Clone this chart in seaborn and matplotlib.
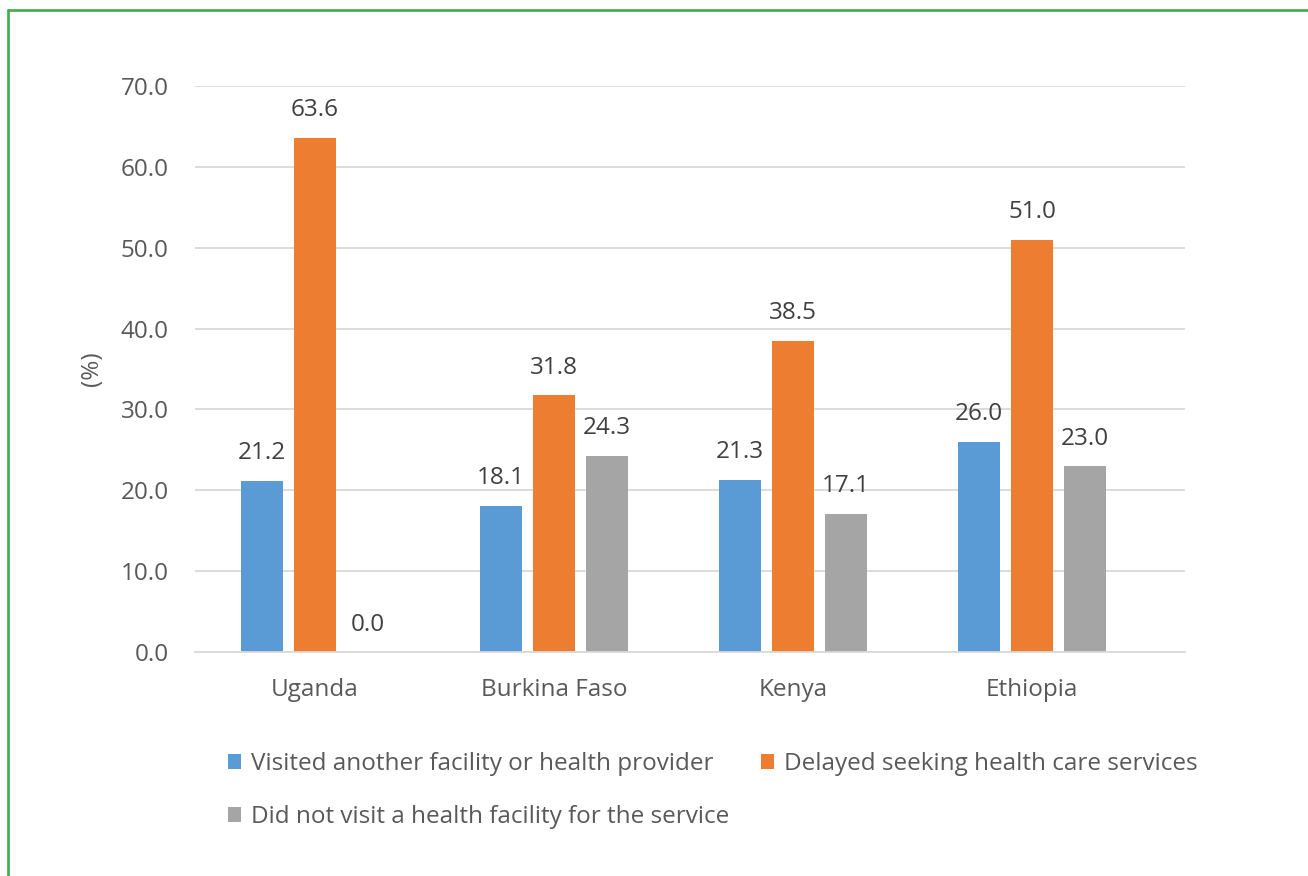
import matplotlib
matplotlib.use("Agg")
import matplotlib.pyplot as plt
from matplotlib.lines import Line2D
import seaborn as sns
import pandas as pd

countries = ["Uganda", "Burkina Faso", "Kenya", "Ethiopia"]
series = ["Visited another facility or health provider",
          "Delayed seeking health care services",
          "Did not visit a health facility for the service"]
visited = [21.2, 18.1, 21.3, 26.0]
delayed = [63.6, 31.8, 38.5, 51.0]
not_visited = [0.0, 24.3, 17.1, 23.0]
colors = ["#5B9BD5", "#ED7D31", "#A5A5A5"]

rows = []
for s, vals in zip(series, [visited, delayed, not_visited]):
    for c, v in zip(countries, vals):
        rows.append({"country": c, "series": s, "value": v})
df = pd.DataFrame(rows)

sns.set_theme(style="white")
plt.rcParams["font.family"] = ["Open Sans", "DejaVu Sans"]
text_color = "#595959"
label_color = "#404040"
fs = 17.5

fig = plt.figure(figsize=(13.08, 8.76), dpi=100)
ax = fig.add_axes([195/1308, 1-652/876, (1185-195)/1308, (652-86)/876])

sns.barplot(data=df, x="country", y="value", hue="series", hue_order=series,
            order=countries, palette=colors, width=0.665, gap=0.2,
            saturation=1, ax=ax, legend=True, edgecolor="none")

ax.set_ylim(0, 70)
ax.set_yticks(range(0, 71, 10))
ax.set_yticklabels([f"{v:.1f}" for v in range(0, 71, 10)])
ax.set_xlim(-0.502, 3.64)
ax.grid(axis="y", color="#D9D9D9", linewidth=1.3)
ax.set_axisbelow(True)
for sp in ["top", "right", "left"]:
    ax.spines[sp].set_visible(False)
ax.spines["bottom"].set_color("#D9D9D9")
ax.spines["bottom"].set_linewidth(1.3)
ax.tick_params(axis="both", length=0, labelsize=fs, labelcolor=text_color)
ax.tick_params(axis="y", pad=19)
ax.tick_params(axis="x", pad=19)
ax.set_xlabel("")
ax.set_ylabel("(%)", fontsize=fs, color=text_color, labelpad=12)

for cont in ax.containers:
    for bar, v in zip(cont, cont.datavalues):
        ax.annotate(f"{v:.1f}", (bar.get_x() + bar.get_width()/2, bar.get_height()),
                    xytext=(0, 11), textcoords="offset points", ha="center",
                    va="bottom", fontsize=fs, color=label_color)

h, l = ax.get_legend_handles_labels()
order = [0, 2, 1]
ax.legend([h[i] for i in order], [l[i] for i in order], ncol=2, frameon=False,
          loc="upper left", bbox_to_anchor=(228/1308, 1-752/876),
          bbox_transform=fig.transFigure, fontsize=fs, labelcolor=text_color,
          handlelength=0.55, handleheight=0.55, handletextpad=0.4,
          columnspacing=1.3, labelspacing=1.2, borderaxespad=0, borderpad=0)

green = "#3DAE49"
fig.add_artist(Line2D([7.5/1308, 7.5/1308], [0, 1-9.5/876], transform=fig.transFigure,
                      color=green, linewidth=1.9))
fig.add_artist(Line2D([7.5/1308, 1], [1-9.5/876, 1-9.5/876], transform=fig.transFigure,
                      color=green, linewidth=1.9))

fig.savefig("out.png", dpi=100)
